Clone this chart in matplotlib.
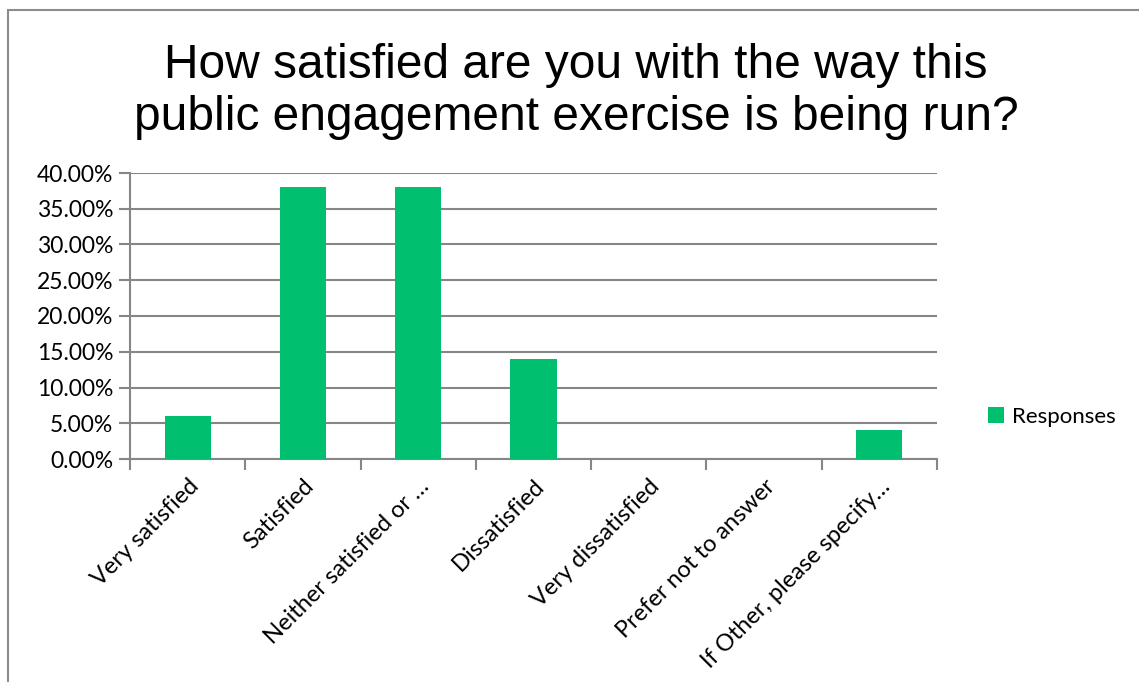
import matplotlib.pyplot as plt
from matplotlib.patches import Rectangle
from matplotlib.ticker import FuncFormatter

categories = ["Very satisfied", "Satisfied", "Neither satisfied or \u2026", "Dissatisfied",
              "Very dissatisfied", "Prefer not to answer", "If Other, please specify\u2026"]
responses = [0.06, 0.38, 0.38, 0.14, 0.0, 0.0, 0.04]

green = "#00bf6f"
grid = "#868686"
W, H = 1139, 682
lab_font = "Lato"

fig = plt.figure(figsize=(W / 100, H / 100), dpi=100)
# chart-area border (only left/top visible in the crop)
fig.patches.append(Rectangle((8 / W, -0.1), 2.0, (H - 10) / H + 0.1, transform=fig.transFigure,
                             fill=False, edgecolor="#8c8c8c", lw=1.5))

ax = fig.add_axes([130 / W, 1 - 459 / H, (937 - 130) / W, (459 - 173) / H])
x = range(len(categories))
ax.bar(x, responses, width=0.4, color=green, zorder=3, label="Responses")
ax.set_xlim(-0.5, len(categories) - 0.5)
ax.set_ylim(0, 0.40)
ax.set_yticks([i * 0.05 for i in range(9)])
ax.yaxis.set_major_formatter(FuncFormatter(lambda v, p: f"{v * 100:.2f}%"))
ax.yaxis.grid(True, color=grid, lw=1.5, zorder=0)

ax.set_xticks([i + 0.5 for i in range(-1, len(categories))], minor=False)
ax.set_xticklabels([])
ax.set_xticks(list(x), minor=True)
ax.set_xticklabels(categories, minor=True, rotation=45, ha="right", va="top",
                   rotation_mode="anchor", fontsize=17, family=lab_font)
ax.tick_params(axis="x", which="minor", length=0, pad=12)
ax.tick_params(axis="x", which="major", length=8, width=1.5, color=grid)
ax.tick_params(axis="y", length=8, width=1.5, color=grid, labelsize=16.5, pad=4)
for lbl in ax.get_yticklabels():
    lbl.set_family(lab_font)

for s in ["top", "right"]:
    ax.spines[s].set_visible(False)
for s in ["left", "bottom"]:
    ax.spines[s].set_color(grid)
    ax.spines[s].set_linewidth(1.5)

fig.text(576 / W, 1 - 92 / H, "How satisfied are you with the way this\npublic engagement exercise is being run?",
         ha="center", va="center", fontsize=34.5, family="Liberation Sans", linespacing=1.2)

fig.legend(loc="center left", bbox_to_anchor=(968 / W, 1 - 417 / H), frameon=False,
           prop={"family": lab_font, "size": 16}, handlelength=0.7, handleheight=0.7,
           handletextpad=0.4)

fig.savefig("out.png", dpi=100)
